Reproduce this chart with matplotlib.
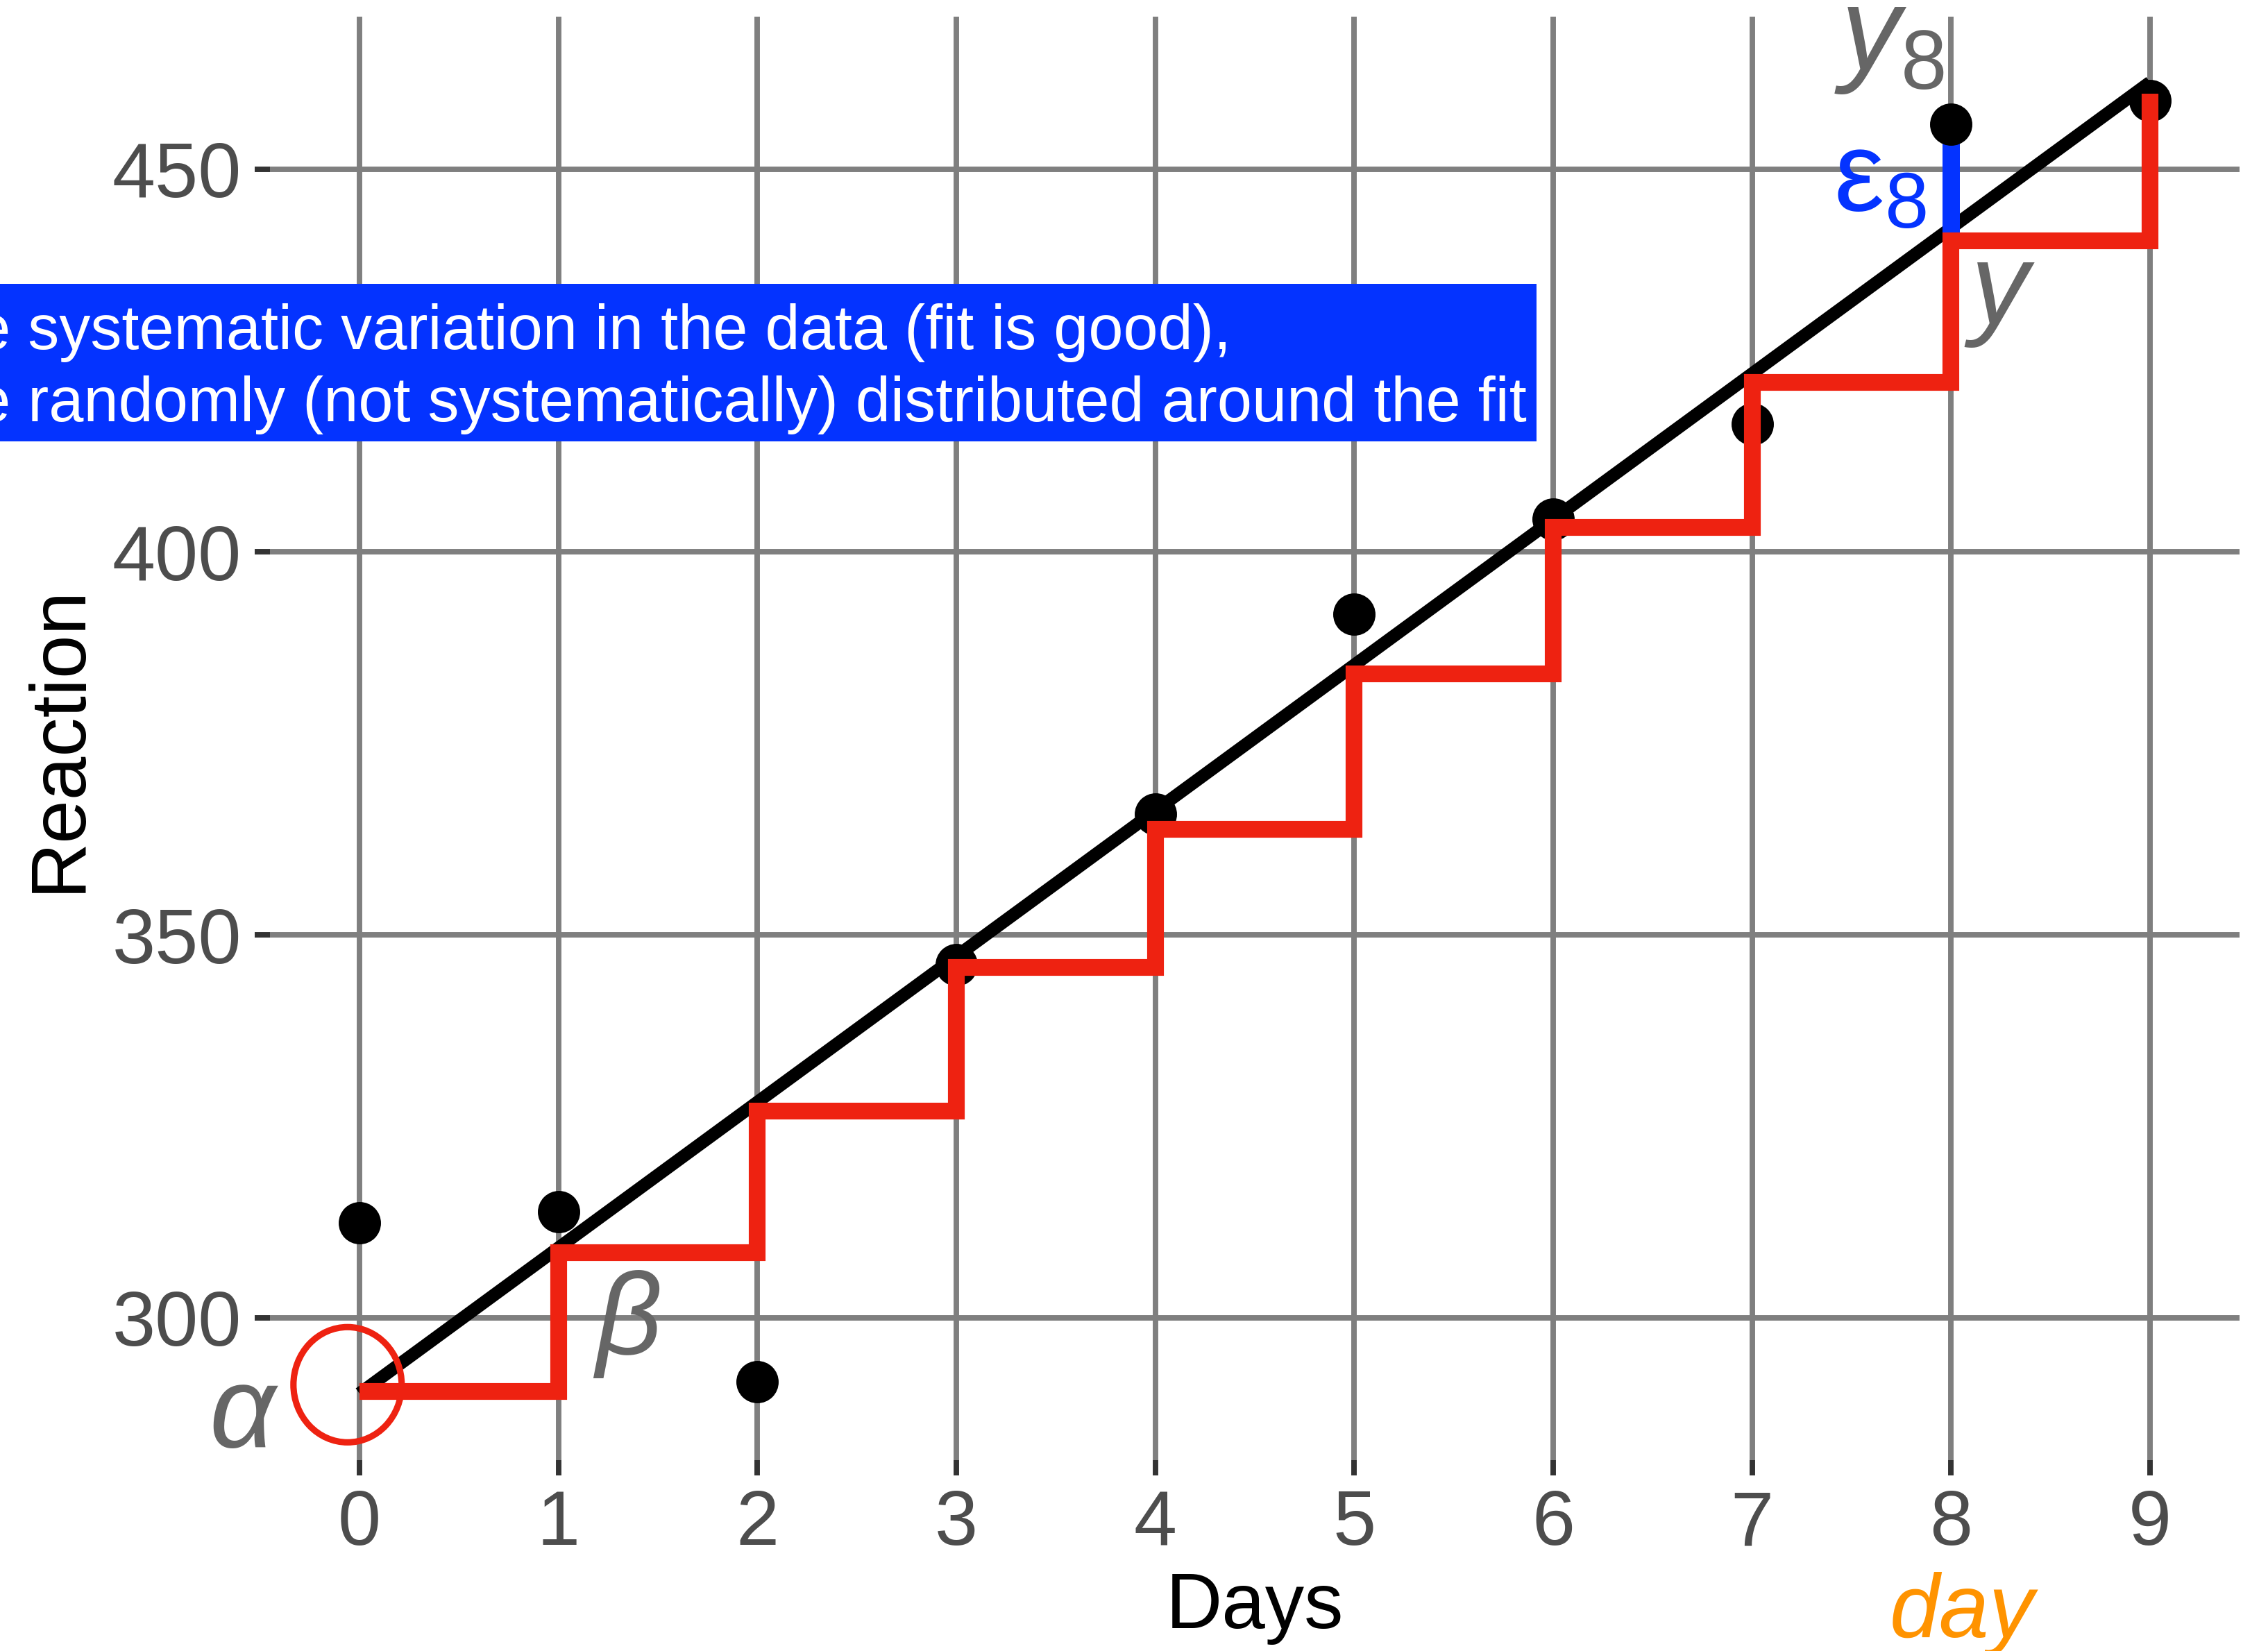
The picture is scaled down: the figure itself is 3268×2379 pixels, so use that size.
import matplotlib
matplotlib.use("Agg")
import matplotlib.pyplot as plt
from matplotlib.patches import Ellipse, Rectangle
import numpy as np

# sleepstudy, subject 337
days = np.array([0, 1, 2, 3, 4, 5, 6, 7, 8, 9])
reaction = np.array([312.37, 313.80, 291.61, 346.12, 365.73,
                     391.84, 404.26, 416.69, 455.86, 458.92])
# hand-drawn staircase (alpha + k*beta), levels
step_levels = np.array([290.4, 308.5, 327.0, 345.7, 363.8,
                        384.1, 403.2, 422.1, 440.6, 459.8])
x_ticks = [0, 1, 2, 3, 4, 5, 6, 7, 8, 9]
y_ticks = [300, 350, 400, 450]
resid_day = 8

note_lines = ["e systematic variation in the data (fit is good),",
              "e randomly (not systematically) distributed around the fit"]

plt.rcParams['font.family'] = ['Liberation Sans', 'DejaVu Sans']
plt.rcParams['mathtext.fontset'] = 'custom'
plt.rcParams['mathtext.rm'] = 'Liberation Sans'
plt.rcParams['mathtext.it'] = 'Liberation Sans:italic'

RED = '#EE2211'
BLUE = '#0433FF'
GREY = '#666666'
ORANGE = '#FF9300'

W, H = 3268, 2379
fig = plt.figure(figsize=(W / 300, H / 300), dpi=300)
ax = fig.add_axes([389 / W, 1 - 2104 / H, (3227 - 389) / W, (2104 - 24) / H])

# straight-line fit, like geom_smooth(method = "lm")
beta, alpha = np.polyfit(days, reaction, 1)
fitted = alpha + beta * days

ax.plot(days[[0, -1]], fitted[[0, -1]], color='black', lw=4.4,
        solid_capstyle='butt', zorder=2.2)
ax.plot([resid_day, resid_day], [step_levels[resid_day], reaction[resid_day]],
        color=BLUE, lw=6, solid_capstyle='butt', zorder=2.5)
ax.scatter(days, reaction, s=214, color='black', linewidths=0, zorder=3)
ax.plot(days, step_levels, drawstyle='steps-post', color=RED, lw=5.8,
        solid_capstyle='butt', solid_joinstyle='miter', zorder=4)
ax.add_patch(Ellipse((-0.06, 291.25), 0.544, 15.05, fill=False,
                     edgecolor=RED, lw=2.2, zorder=4))

# labels drawn on the chart
ax.text(-0.59, 283.1, 'α', style='italic', fontsize=40, color=GREY,
        ha='center', va='baseline')
ax.text(1.354, 295.3, 'β', style='italic', fontsize=40, color=GREY,
        ha='center', va='baseline')
ax.text(7.69, 462.95, r'$y_8$', fontsize=41, color=GREY,
        ha='center', va='baseline')
ax.text(7.643, 444.6, r'$\mathrm{ε}_8$', fontsize=39, color=BLUE,
        ha='center', va='baseline')
ax.text(8.243, 429.8, 'y', style='italic', fontsize=40, color=GREY,
        ha='center', va='baseline')
ax.text(8.055, 258.3, 'day', style='italic', fontsize=31, color=ORANGE,
        ha='center', va='baseline')

ax.set_xlim(-0.45, 9.45)
ax.set_ylim(281.4, 469.9)
ax.set_xticks(x_ticks)
ax.set_yticks(y_ticks)
ax.tick_params(length=5.3, width=1.9, color='#333333', labelsize=26.8,
               labelcolor='#4D4D4D', pad=4.6)
for s in ax.spines.values():
    s.set_visible(False)
ax.grid(color='#7F7F7F', lw=1.9)
ax.set_axisbelow(True)

ax.set_xlabel('Days', fontsize=27, color='black', va='baseline')
ax.xaxis.set_label_coords(0.5, (2104 - 2346) / 2080)
ax.set_ylabel('Reaction', fontsize=27, color='black', va='baseline')
ax.yaxis.set_label_coords((115 - 389) / 2838, 0.5)

# blue note box, cut off at the left edge of the figure
fig.add_artist(Rectangle((0, 1 - 636 / H), 2214 / W, (636 - 409) / H,
                         transform=fig.transFigure, facecolor=BLUE,
                         edgecolor='none', zorder=5))
fig.text(-35 / W, 1 - 503 / H, note_lines[0], color='white', fontsize=21.65,
         va='baseline', zorder=6)
fig.text(-35 / W, 1 - 607 / H, note_lines[1], color='white', fontsize=21.65,
         va='baseline', zorder=6)

fig.savefig('out.png', dpi=300, facecolor='white')
